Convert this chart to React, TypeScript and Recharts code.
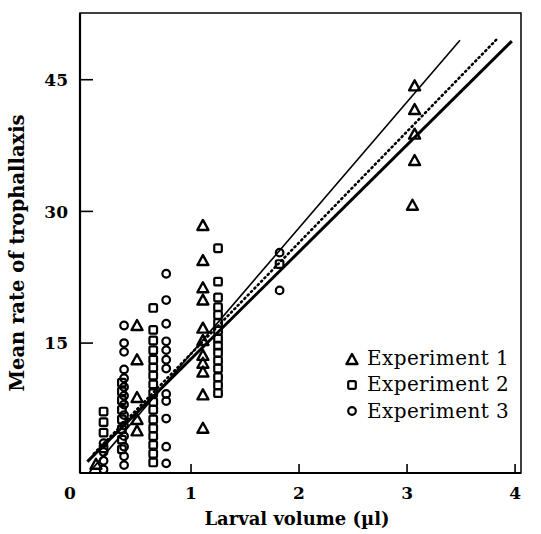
import { ScatterChart, Scatter, XAxis, YAxis, ReferenceArea, Legend } from 'recharts';

// Experiment 1 (triangles)
const exp1 = [
	{ x: 0.12, y: 1.2 },
	{ x: 0.5, y: 17.0 }, { x: 0.5, y: 13.1 }, { x: 0.5, y: 8.8 }, { x: 0.5, y: 6.3 }, { x: 0.5, y: 5.0 },
	{ x: 1.11, y: 28.4 }, { x: 1.11, y: 24.4 }, { x: 1.11, y: 21.3 }, { x: 1.11, y: 19.9 },
	{ x: 1.11, y: 16.7 }, { x: 1.11, y: 15.3 }, { x: 1.11, y: 13.6 }, { x: 1.11, y: 12.7 },
	{ x: 1.11, y: 11.7 }, { x: 1.11, y: 9.1 }, { x: 1.11, y: 5.3 },
	{ x: 3.07, y: 44.3 }, { x: 3.07, y: 41.6 }, { x: 3.07, y: 38.8 }, { x: 3.07, y: 35.8 }, { x: 3.05, y: 30.7 },
];

// Experiment 2 (squares)
const exp2 = [
	{ x: 0.19, y: 7.2 }, { x: 0.19, y: 6.0 }, { x: 0.19, y: 4.8 }, { x: 0.19, y: 3.0 },
	{ x: 0.36, y: 10.5 }, { x: 0.36, y: 9.5 }, { x: 0.36, y: 8.5 }, { x: 0.36, y: 7.4 },
	{ x: 0.36, y: 6.3 }, { x: 0.36, y: 5.2 }, { x: 0.36, y: 4.0 }, { x: 0.36, y: 2.9 },
	{ x: 0.65, y: 19.0 }, { x: 0.65, y: 16.5 }, { x: 0.65, y: 15.3 }, { x: 0.65, y: 14.2 },
	{ x: 0.65, y: 13.1 }, { x: 0.65, y: 12.2 }, { x: 0.65, y: 11.3 }, { x: 0.65, y: 10.3 },
	{ x: 0.65, y: 9.3 }, { x: 0.65, y: 8.3 }, { x: 0.65, y: 7.4 }, { x: 0.65, y: 6.3 },
	{ x: 0.65, y: 5.3 }, { x: 0.65, y: 4.4 }, { x: 0.65, y: 3.4 }, { x: 0.65, y: 2.4 }, { x: 0.65, y: 1.4 },
	{ x: 1.25, y: 25.8 }, { x: 1.25, y: 22.0 }, { x: 1.25, y: 20.2 }, { x: 1.25, y: 19.1 },
	{ x: 1.25, y: 18.2 }, { x: 1.25, y: 17.3 }, { x: 1.25, y: 16.4 }, { x: 1.25, y: 15.5 },
	{ x: 1.25, y: 14.7 }, { x: 1.25, y: 13.9 }, { x: 1.25, y: 13.0 }, { x: 1.25, y: 12.1 },
	{ x: 1.25, y: 11.1 }, { x: 1.25, y: 10.2 }, { x: 1.25, y: 9.3 },
	{ x: 1.82, y: 24.0 },
];

// Experiment 3 (circles)
const exp3 = [
	{ x: 0.19, y: 3.6 }, { x: 0.19, y: 2.6 }, { x: 0.19, y: 1.6 }, { x: 0.19, y: 0.6 },
	{ x: 0.38, y: 17.0 }, { x: 0.38, y: 15.0 }, { x: 0.38, y: 14.0 }, { x: 0.38, y: 12.0 },
	{ x: 0.38, y: 11.0 }, { x: 0.38, y: 10.0 }, { x: 0.38, y: 9.0 }, { x: 0.38, y: 8.0 },
	{ x: 0.38, y: 6.8 }, { x: 0.38, y: 5.6 }, { x: 0.38, y: 4.4 }, { x: 0.38, y: 3.2 },
	{ x: 0.38, y: 2.1 }, { x: 0.38, y: 1.1 },
	{ x: 0.77, y: 22.9 }, { x: 0.77, y: 19.9 }, { x: 0.77, y: 17.2 }, { x: 0.77, y: 15.2 },
	{ x: 0.77, y: 14.2 }, { x: 0.77, y: 13.1 }, { x: 0.77, y: 12.1 }, { x: 0.77, y: 9.2 },
	{ x: 0.77, y: 8.4 }, { x: 0.77, y: 6.4 }, { x: 0.77, y: 3.2 }, { x: 0.77, y: 1.3 },
	{ x: 1.82, y: 25.3 }, { x: 1.82, y: 21.0 },
];

// regression lines, end points
const fitThin = [{ x: 0.06, y: 0.3 }, { x: 3.49, y: 49.5 }];
const fitDotted = [{ x: 0.1, y: 2.4 }, { x: 3.83, y: 49.6 }];
const fitThick = [{ x: 0.04, y: 1.5 }, { x: 3.97, y: 49.4 }];

const xTicks = [0, 1, 2, 3, 4];
const yTicks = [15, 30, 45];
const xDomain: [number, number] = [-0.028, 4.055];
const yDomain: [number, number] = [0.2, 52.6];

const legendItems = [
	{ name: 'Experiment 1', marker: 'triangle' },
	{ name: 'Experiment 2', marker: 'square' },
	{ name: 'Experiment 3', marker: 'circle' },
];

const FONT = '"DejaVu Serif", serif';
const X_TICK_MARGIN = 13;
const Y_TICK_MARGIN = 12;

function Triangle({ cx, cy }: any) {
	return <polygon points={`${cx},${cy - 5.5} ${cx + 5.5},${cy + 4.5} ${cx - 5.5},${cy + 4.5}`} fill="none" stroke="#000" strokeWidth={2.4} strokeLinejoin="round" />;
}

function Square({ cx, cy }: any) {
	return <rect x={cx - 3.8} y={cy - 3.8} width={7.6} height={7.6} rx={1.5} fill="none" stroke="#000" strokeWidth={2.2} />;
}

function Circle({ cx, cy }: any) {
	return <circle cx={cx} cy={cy} r={3.8} fill="none" stroke="#000" strokeWidth={2.2} />;
}

const noDot = () => <g />;

function XTick({ x, y, payload }: any) {
	const v = payload.value;
	const axisY = y - X_TICK_MARGIN;
	return (
		<g>
			{v !== 0 && <line x1={x} x2={x} y1={axisY} y2={axisY - 9} stroke="#000" strokeWidth={1.6} />}
			<text x={v === 0 ? x - 13 : x} y={y} dy="0.75em" textAnchor="middle" fontFamily={FONT} fontWeight="bold" fontSize={17} fill="#000">
				{v}
			</text>
		</g>
	);
}

function YTick({ x, y, payload }: any) {
	const axisX = x + Y_TICK_MARGIN;
	return (
		<g>
			<line x1={axisX} x2={axisX + 13} y1={y} y2={y} stroke="#000" strokeWidth={1.6} />
			<text x={x} y={y} dy="0.36em" textAnchor="end" fontFamily={FONT} fontWeight="bold" fontSize={17} fill="#000">
				{payload.value}
			</text>
		</g>
	);
}

function LegendIcon({ marker }: { marker: string }) {
	return (
		<svg width={14} height={14} style={{ verticalAlign: 'middle', marginRight: 8 }}>
			{marker === 'triangle' && <Triangle cx={7} cy={7.5} />}
			{marker === 'square' && <Square cx={7} cy={7} />}
			{marker === 'circle' && <Circle cx={7} cy={7} />}
		</svg>
	);
}

function LegendBox() {
	return (
		<div style={{ fontFamily: FONT, fontSize: 20, color: '#000', lineHeight: '25.5px', letterSpacing: 0.4 }}>
			{legendItems.map((it) => (
				<div key={it.name} style={{ whiteSpace: 'nowrap' }}>
					<LegendIcon marker={it.marker} />
					<span style={{ verticalAlign: 'middle' }}>{it.name}</span>
				</div>
			))}
		</div>
	);
}

export default function App() {
	return (
		<div style={{ position: 'absolute', left: 0, top: 0, background: '#fff' }}>
			<ScatterChart width={541} height={534} margin={{ top: 13, right: 20, bottom: 0, left: 0 }}>
				<XAxis
					type="number"
					dataKey="x"
					domain={xDomain}
					ticks={xTicks}
					allowDataOverflow
					height={61}
					tickSize={0}
					tickMargin={X_TICK_MARGIN}
					tickLine={false}
					tick={<XTick />}
					axisLine={{ stroke: '#000', strokeWidth: 2.2 }}
					label={{
						content: () => (
							<text x={297} y={525} textAnchor="middle" fontFamily={FONT} fontWeight="bold" fontSize={18} fill="#000">
								Larval volume (µl)
							</text>
						),
					}}
				/>
				<YAxis
					type="number"
					dataKey="y"
					domain={yDomain}
					ticks={yTicks}
					allowDataOverflow
					width={80}
					tickSize={0}
					tickMargin={Y_TICK_MARGIN}
					tickLine={false}
					tick={<YTick />}
					axisLine={{ stroke: '#000', strokeWidth: 2.2 }}
					label={{
						content: () => (
							<text transform="translate(24 253) rotate(-90)" textAnchor="middle" fontFamily={FONT} fontWeight="bold" fontSize={19.5} fill="#000">
								Mean rate of trophallaxis
							</text>
						),
					}}
				/>
				<ReferenceArea x1={xDomain[0]} x2={xDomain[1]} y1={yDomain[0]} y2={yDomain[1]} fill="none" stroke="#000" strokeWidth={1.5} ifOverflow="visible" />
				<Scatter data={fitThick} shape={noDot} line={{ stroke: '#000', strokeWidth: 3 }} isAnimationActive={false} legendType="none" />
				<Scatter data={fitDotted} shape={noDot} line={{ stroke: '#000', strokeWidth: 2.6, strokeDasharray: '1.2 3.6', strokeLinecap: 'round' }} isAnimationActive={false} legendType="none" />
				<Scatter data={fitThin} shape={noDot} line={{ stroke: '#000', strokeWidth: 1.6 }} isAnimationActive={false} legendType="none" />
				<Scatter name="Experiment 1" data={exp1} shape={<Triangle />} isAnimationActive={false} />
				<Scatter name="Experiment 2" data={exp2} shape={<Square />} isAnimationActive={false} />
				<Scatter name="Experiment 3" data={exp3} shape={<Circle />} isAnimationActive={false} />
				<Legend
					layout="vertical"
					align="center"
					verticalAlign="middle"
					content={<LegendBox />}
					wrapperStyle={{ left: 345, top: 345, width: 'auto', bottom: 'auto', right: 'auto' }}
				/>
			</ScatterChart>
		</div>
	);
}
